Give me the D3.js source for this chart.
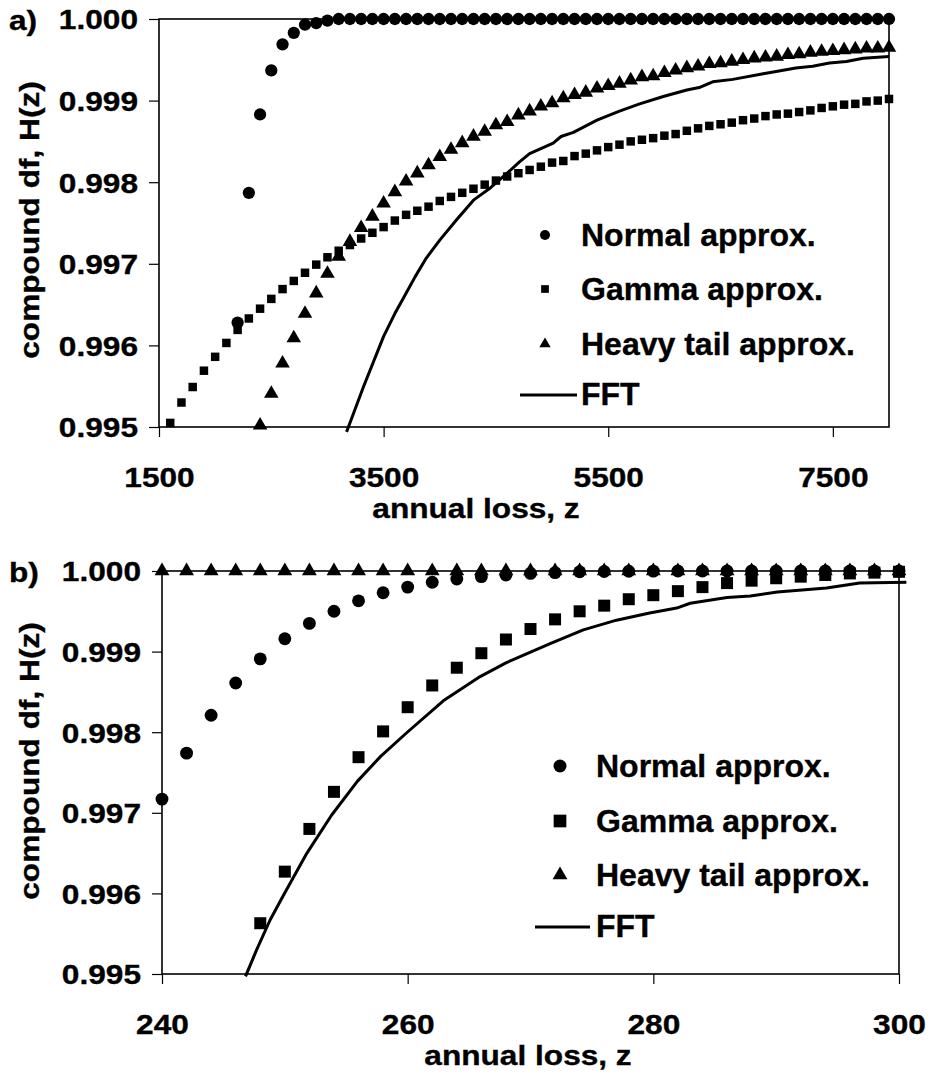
<!DOCTYPE html>
<html>
<head>
<meta charset="utf-8">
<script src="https://cdn.jsdelivr.net/npm/d3@7"></script>
<style>
  body { margin: 0; background: #fff; }
  text { font-family: "Liberation Sans", Arial, sans-serif; font-weight: bold; fill: #000; stroke: #000; stroke-width: 0.35px; }
</style>
</head>
<body>
<svg id="chart" width="931" height="1074"></svg>
<script>
// Shared
const yTicks = [0.995, 0.996, 0.997, 0.998, 0.999, 1.0];
const legendLabels = ["Normal approx.", "Gamma approx.", "Heavy tail approx.", "FFT"];

// Panel a)
const xTicksA = [1500, 3500, 5500, 7500];
const lossGridA = d3.range(1500, 8001, 100);
const normalA = [
  null, null, null, null, null, null, null,
  0.99628, 0.99787, 0.99883, 0.99937, 0.99969, 0.99983, 0.99993, 0.99995, 0.99998,
  1, 1, 1, 1, 1, 1, 1, 1, 1, 1,
  1, 1, 1, 1, 1, 1, 1, 1, 1, 1,
  1, 1, 1, 1, 1, 1, 1, 1, 1, 1,
  1, 1, 1, 1, 1, 1, 1, 1, 1, 1,
  1, 1, 1, 1, 1, 1, 1, 1, 1, 1
];
const gammaA = [
  null,
  0.99505, 0.99530, 0.99549, 0.99569, 0.99586, 0.99603, 0.99619, 0.99633, 0.99645, 0.99657,
  0.99669, 0.99679, 0.99689, 0.99699, 0.99708, 0.99716, 0.99723, 0.99731, 0.99738, 0.99745,
  0.99753, 0.99760, 0.99765, 0.99770, 0.99777, 0.99782, 0.99787, 0.99792, 0.99797, 0.99802,
  0.99807, 0.99811, 0.99815, 0.99819, 0.99824, 0.99826, 0.99832, 0.99835, 0.99839, 0.99843,
  0.99846, 0.99850, 0.99852, 0.99854, 0.99857, 0.99859, 0.99863, 0.99866, 0.99869, 0.99871,
  0.99873, 0.99876, 0.99878, 0.99881, 0.99883, 0.99884, 0.99886, 0.99888, 0.99891, 0.99893,
  0.99895, 0.99896, 0.99899, 0.99900, 0.99902
];
const heavyA = [
  null, null, null, null, null, null, null, null, null,
  0.99502, 0.99541, 0.99578, 0.99609, 0.99639, 0.99664, 0.99688, 0.99709, 0.99727, 0.99744,
  0.99758, 0.99774, 0.99788, 0.99801, 0.99811, 0.99821, 0.99831, 0.99840, 0.99848, 0.99856,
  0.99862, 0.99870, 0.99874, 0.99882, 0.99887, 0.99893, 0.99897, 0.99903, 0.99907, 0.99910,
  0.99915, 0.99918, 0.99921, 0.99925, 0.99929, 0.99930, 0.99934, 0.99937, 0.99940, 0.99942,
  0.99945, 0.99946, 0.99948, 0.99950, 0.99952, 0.99953, 0.99954, 0.99956, 0.99957, 0.99959,
  0.99960, 0.99961, 0.99962, 0.99963, 0.99964, 0.99964, 0.99965
];
const fftLossA = [3170, 3200, 3320, 3500, 3600, 3700, 3780, 3880, 4000, 4150, 4300, 4450,
  4600, 4710, 4800, 5010, 5080, 5190, 5400, 5600, 5780, 5990, 6200, 6310, 6430, 6610,
  6880, 6970, 7170, 7320, 7470, 7620, 7770, 8000];
const fftA = [0.99494, 0.99505, 0.99549, 0.99611, 0.99639, 0.99664, 0.99684, 0.99707,
  0.99729, 0.99754, 0.99778, 0.99793, 0.99811, 0.99825, 0.99835, 0.99848, 0.99856,
  0.99861, 0.99876, 0.99887, 0.99896, 0.99905, 0.99913, 0.99916, 0.99923, 0.99926,
  0.99933, 0.99935, 0.99940, 0.99942, 0.99946, 0.99948, 0.99952, 0.99954];

// Panel b)
const xTicksB = [240, 260, 280, 300];
const lossGridB = d3.range(240, 301, 2);
const normalB = [
  0.99717, 0.99774, 0.99821, 0.99861, 0.99891, 0.99916, 0.99935, 0.99950, 0.99963, 0.99973,
  0.99980, 0.99986, 0.99990, 0.99993, 0.99995, 0.99997, 0.99998, 0.99999, 0.999994, 0.999997,
  0.999999, 1, 1, 1, 1, 1, 1, 1, 1, 1, 1
];
const gammaB = [
  null, null, null, null,
  0.99563, 0.99627, 0.99680, 0.99726, 0.99769, 0.99801, 0.99831, 0.99858, 0.99880,
  0.99898, 0.99915, 0.99928, 0.99940, 0.99950, 0.99957, 0.99965, 0.99970, 0.99975,
  0.99980, 0.99985, 0.99988, 0.99991, 0.99993, 0.99995, 0.99997, 0.99998, 0.99999
];
const heavyB = [
  1, 1, 1, 1, 1, 1, 1, 1, 1, 1,
  1, 1, 1, 1, 1, 1, 1, 1, 1, 1,
  1, 1, 1, 1, 1, 1, 1, 1, 1, 1, 1
];
const fftLossB = [246.8, 247.7, 248.8, 249.9, 251.8, 253.8, 255.9, 257.8, 259.9, 262.9,
  265.9, 268.0, 271.6, 274.3, 277.0, 279.7, 281.9, 283.0, 286.0, 287.9, 290.1, 294.1,
  296.8, 300.6];
const fftB = [0.99497, 0.99530, 0.99567, 0.99598, 0.99650, 0.99697, 0.99739, 0.99770,
  0.99799, 0.99839, 0.99869, 0.99886, 0.99910, 0.99927, 0.99939, 0.99948, 0.99954,
  0.99960, 0.99967, 0.99969, 0.99974, 0.99979, 0.99985, 0.99986];

// Text in the source is a bit wider than Arial at the same height
const STRETCH = 1.13;
const svg = d3.select("#chart");

function points(grid, values) {
  return grid.map((x, i) => ({ x: x, y: values[i] })).filter(d => d.y != null);
}

function drawPanel(p) {
  const g = svg.append("g");
  const x = d3.scaleLinear().domain(p.xDomain).range([p.left, p.right]);
  const y = d3.scaleLinear().domain([0.995, 1.0]).range([p.bottom, p.top]);

  // Plot frame
  g.append("rect")
    .attr("x", p.left).attr("y", p.top)
    .attr("width", p.right - p.left).attr("height", p.bottom - p.top)
    .attr("fill", "none").attr("stroke", "#000").attr("stroke-width", 1.6);

  // Y axis
  const yAxis = g.append("g")
    .attr("transform", "translate(" + p.left + ",0)")
    .call(d3.axisLeft(y).tickValues(yTicks).tickFormat(d3.format(".3f")).tickSize(10).tickSizeOuter(0));
  yAxis.select(".domain").remove();
  yAxis.selectAll("line").attr("stroke-width", 1.2);
  yAxis.selectAll("text")
    .attr("x", -21 / STRETCH).attr("dy", "0.35em")
    .attr("transform", "scale(" + STRETCH + ",1)")
    .style("font-size", "28px");

  // X axis
  const xAxis = g.append("g")
    .attr("transform", "translate(0," + p.bottom + ")")
    .call(d3.axisBottom(x).tickValues(p.xTicks).tickFormat(d3.format("d")).tickSize(10).tickSizeOuter(0));
  xAxis.select(".domain").remove();
  xAxis.selectAll("line").attr("stroke-width", 1.2);
  xAxis.selectAll("text")
    .attr("y", 60).attr("dy", null)
    .attr("transform", "scale(" + STRETCH + ",1)")
    .style("font-size", "28px");

  // Titles
  g.append("text")
    .attr("transform", "translate(9," + (p.top + 11) + ") scale(" + STRETCH + ",1)")
    .style("font-size", "28px")
    .text(p.label);
  g.append("text")
    .attr("transform", "translate(39," + p.yTitleY + ") rotate(-90) scale(" + STRETCH + ",1)")
    .attr("text-anchor", "middle")
    .style("font-size", "28px")
    .text("compound df, H(z)");
  g.append("text")
    .attr("transform", "translate(" + p.xTitleX + "," + (p.bottom + 91) + ") scale(" + STRETCH + ",1)")
    .attr("text-anchor", "middle")
    .style("font-size", "28px")
    .text("annual loss, z");

  // FFT line
  const line = d3.line().x(d => x(d.x)).y(d => y(d.y));
  g.append("path")
    .datum(p.fft)
    .attr("d", line)
    .attr("fill", "none").attr("stroke", "#000").attr("stroke-width", 3)
    .attr("stroke-linejoin", "round");

  // Markers
  const series = [
    { data: p.normal, type: d3.symbolCircle, size: p.sizes[0] },
    { data: p.gamma, type: d3.symbolSquare, size: p.sizes[1] },
    { data: p.heavy, type: d3.symbolTriangle, size: p.sizes[2] }
  ];
  series.forEach(s => {
    g.append("g").selectAll("path")
      .data(s.data)
      .enter()
      .append("path")
      .attr("transform", d => "translate(" + x(d.x) + "," + y(d.y) + ")")
      .attr("d", d3.symbol().type(s.type).size(s.size))
      .attr("fill", "#000");
  });

  // Legend
  const lg = g.append("g");
  const types = [d3.symbolCircle, d3.symbolSquare, d3.symbolTriangle];
  legendLabels.forEach((label, i) => {
    const base = p.legendY[i];
    if (i < 3) {
      lg.append("path")
        .attr("transform", "translate(" + p.legendMarkerX + "," + (base - 11) + ")")
        .attr("d", d3.symbol().type(types[i]).size(p.legendSizes[i]))
        .attr("fill", "#000");
    } else {
      lg.append("line")
        .attr("x1", p.legendLine[0]).attr("x2", p.legendLine[1])
        .attr("y1", base - 10).attr("y2", base - 10)
        .attr("stroke", "#000").attr("stroke-width", 3);
    }
    lg.append("text")
      .attr("x", p.legendTextX).attr("y", base)
      .style("font-size", "32px")
      .text(label);
  });
}

drawPanel({
  label: "a)",
  left: 159, right: 889, top: 19, bottom: 427,
  xDomain: [1500, 8000], xTicks: xTicksA,
  yTitleY: 220, xTitleX: 476,
  normal: points(lossGridA, normalA),
  gamma: points(lossGridA, gammaA),
  heavy: points(lossGridA, heavyA),
  fft: points(fftLossA, fftA),
  sizes: [118, 72, 92],
  legendSizes: [79, 60, 56],
  legendMarkerX: 545, legendTextX: 581, legendLine: [520, 577],
  legendY: [246, 300, 355, 405]
});

drawPanel({
  label: "b)",
  left: 162, right: 899, top: 571, bottom: 974,
  xDomain: [240, 300], xTicks: xTicksB,
  yTitleY: 761, xTitleX: 528,
  normal: points(lossGridB, normalB),
  gamma: points(lossGridB, gammaB),
  heavy: points(lossGridB, heavyB),
  fft: points(fftLossB, fftB),
  sizes: [130, 144, 95],
  legendSizes: [133, 161, 95],
  legendMarkerX: 560, legendTextX: 596, legendLine: [535, 590],
  legendY: [777, 832, 886, 937]
});
</script>
</body>
</html>
